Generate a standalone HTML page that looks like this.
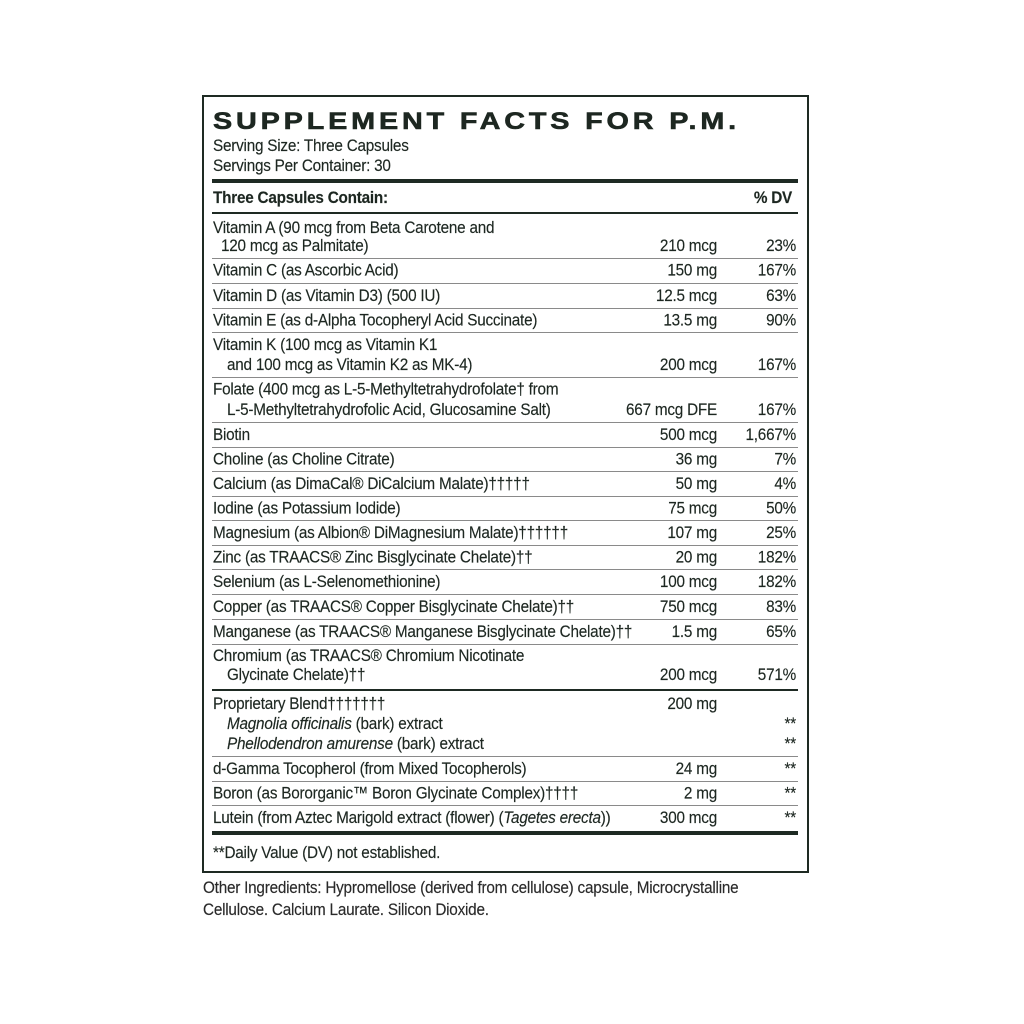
<!DOCTYPE html>
<html>
<head>
<meta charset="utf-8">
<style>
html,body{margin:0;padding:0;background:#fff;}
svg{display:block;}
.t{font-family:"Liberation Sans",Arial,sans-serif;font-size:17px;letter-spacing:-0.25px;fill:#1d2721;stroke:#1d2721;stroke-width:0.15px;}
.b{font-weight:bold;}
.r{text-anchor:end;}
.o{fill:#2a2a2a;stroke:#2a2a2a;}
</style>
</head>
<body>
<svg width="1024" height="1024" viewBox="0 0 1024 1024" xmlns="http://www.w3.org/2000/svg">
<rect x="0" y="0" width="1024" height="1024" fill="#fff"/>
<rect x="203" y="96" width="605" height="776" fill="none" stroke="#1e2a23" stroke-width="2"/>

<g transform="translate(213,129) scale(1.2,1)">
<text x="0" y="0" font-family="Liberation Sans, Arial, sans-serif" font-weight="bold" font-size="24" fill="#1d2721" stroke="#1d2721" stroke-width="0.6" textLength="436" lengthAdjust="spacing">SUPPLEMENT FACTS FOR P.M.</text>
</g>

<rect x="212" y="179" width="586" height="4" fill="#1e2a23"/>
<rect x="212" y="212" width="586" height="2" fill="#1e2a23"/>

<g fill="#8a8a8a">
<rect x="212" y="258" width="586" height="1"/>
<rect x="212" y="283" width="586" height="1"/>
<rect x="212" y="308" width="586" height="1"/>
<rect x="212" y="332" width="586" height="1"/>
<rect x="212" y="377" width="586" height="1"/>
<rect x="212" y="422" width="586" height="1"/>
<rect x="212" y="447" width="586" height="1"/>
<rect x="212" y="471" width="586" height="1"/>
<rect x="212" y="496" width="586" height="1"/>
<rect x="212" y="520" width="586" height="1"/>
<rect x="212" y="545" width="586" height="1"/>
<rect x="212" y="569" width="586" height="1"/>
<rect x="212" y="594" width="586" height="1"/>
<rect x="212" y="619" width="586" height="1"/>
<rect x="212" y="644" width="586" height="1"/>
<rect x="212" y="756" width="586" height="1"/>
<rect x="212" y="781" width="586" height="1"/>
<rect x="212" y="805" width="586" height="1"/>
</g>
<rect x="212" y="689" width="586" height="2" fill="#1e2a23"/>
<rect x="212" y="831" width="586" height="4" fill="#1e2a23"/>

<g transform="scale(0.9,1)">
<text class="t" x="236.67" y="151">Serving Size: Three Capsules</text>
<text class="t" x="236.67" y="171">Servings Per Container: 30</text>

<text class="t b" x="236.67" y="203">Three Capsules Contain:</text>
<text class="t b r" x="880" y="203">% DV</text>

<text class="t" x="236.67" y="233">Vitamin A (90 mcg from Beta Carotene and</text>
<text class="t" x="245.56" y="251">120 mcg as Palmitate)</text>
<text class="t r" x="796.67" y="251">210 mcg</text>
<text class="t r" x="884.44" y="251">23%</text>

<text class="t" x="236.67" y="275.5">Vitamin C (as Ascorbic Acid)</text>
<text class="t r" x="796.67" y="275.5">150 mg</text>
<text class="t r" x="884.44" y="275.5">167%</text>

<text class="t" x="236.67" y="301">Vitamin D (as Vitamin D3) (500 IU)</text>
<text class="t r" x="796.67" y="301">12.5 mcg</text>
<text class="t r" x="884.44" y="301">63%</text>

<text class="t" x="236.67" y="325.5">Vitamin E (as d-Alpha Tocopheryl Acid Succinate)</text>
<text class="t r" x="796.67" y="325.5">13.5 mg</text>
<text class="t r" x="884.44" y="325.5">90%</text>

<text class="t" x="236.67" y="350">Vitamin K (100 mcg as Vitamin K1</text>
<text class="t" x="252.22" y="370">and 100 mcg as Vitamin K2 as MK-4)</text>
<text class="t r" x="796.67" y="370">200 mcg</text>
<text class="t r" x="884.44" y="370">167%</text>

<text class="t" x="236.67" y="394.5">Folate (400 mcg as L-5-Methyltetrahydrofolate† from</text>
<text class="t" x="252.22" y="415">L-5-Methyltetrahydrofolic Acid, Glucosamine Salt)</text>
<text class="t r" x="796.67" y="415">667 mcg DFE</text>
<text class="t r" x="884.44" y="415">167%</text>

<text class="t" x="236.67" y="440">Biotin</text>
<text class="t r" x="796.67" y="440">500 mcg</text>
<text class="t r" x="884.44" y="440">1,667%</text>

<text class="t" x="236.67" y="464.5">Choline (as Choline Citrate)</text>
<text class="t r" x="796.67" y="464.5">36 mg</text>
<text class="t r" x="884.44" y="464.5">7%</text>

<text class="t" x="236.67" y="489">Calcium (as DimaCal® DiCalcium Malate)†††††</text>
<text class="t r" x="796.67" y="489">50 mg</text>
<text class="t r" x="884.44" y="489">4%</text>

<text class="t" x="236.67" y="513.5">Iodine (as Potassium Iodide)</text>
<text class="t r" x="796.67" y="513.5">75 mcg</text>
<text class="t r" x="884.44" y="513.5">50%</text>

<text class="t" x="236.67" y="538">Magnesium (as Albion® DiMagnesium Malate)††††††</text>
<text class="t r" x="796.67" y="538">107 mg</text>
<text class="t r" x="884.44" y="538">25%</text>

<text class="t" x="236.67" y="562.5">Zinc (as TRAACS® Zinc Bisglycinate Chelate)††</text>
<text class="t r" x="796.67" y="562.5">20 mg</text>
<text class="t r" x="884.44" y="562.5">182%</text>

<text class="t" x="236.67" y="587">Selenium (as L-Selenomethionine)</text>
<text class="t r" x="796.67" y="587">100 mcg</text>
<text class="t r" x="884.44" y="587">182%</text>

<text class="t" x="236.67" y="612">Copper (as TRAACS® Copper Bisglycinate Chelate)††</text>
<text class="t r" x="796.67" y="612">750 mcg</text>
<text class="t r" x="884.44" y="612">83%</text>

<text class="t" x="236.67" y="637">Manganese (as TRAACS® Manganese Bisglycinate Chelate)††</text>
<text class="t r" x="796.67" y="637">1.5 mg</text>
<text class="t r" x="884.44" y="637">65%</text>

<text class="t" x="236.67" y="661">Chromium (as TRAACS® Chromium Nicotinate</text>
<text class="t" x="252.22" y="680">Glycinate Chelate)††</text>
<text class="t r" x="796.67" y="680">200 mcg</text>
<text class="t r" x="884.44" y="680">571%</text>

<text class="t" x="236.67" y="709">Proprietary Blend†††††††</text>
<text class="t r" x="796.67" y="709">200 mg</text>
<text class="t" x="252.22" y="729"><tspan font-style="italic">Magnolia officinalis</tspan> (bark) extract</text>
<text class="t r" x="884.44" y="729">**</text>
<text class="t" x="252.22" y="749"><tspan font-style="italic">Phellodendron amurense</tspan> (bark) extract</text>
<text class="t r" x="884.44" y="749">**</text>

<text class="t" x="236.67" y="774">d-Gamma Tocopherol (from Mixed Tocopherols)</text>
<text class="t r" x="796.67" y="774">24 mg</text>
<text class="t r" x="884.44" y="774">**</text>

<text class="t" x="236.67" y="798.5">Boron (as Bororganic™ Boron Glycinate Complex)††††</text>
<text class="t r" x="796.67" y="798.5">2 mg</text>
<text class="t r" x="884.44" y="798.5">**</text>

<text class="t" x="236.67" y="823">Lutein (from Aztec Marigold extract (flower) (<tspan font-style="italic">Tagetes erecta</tspan>))</text>
<text class="t r" x="796.67" y="823">300 mcg</text>
<text class="t r" x="884.44" y="823">**</text>

<text class="t" x="236.67" y="858">**Daily Value (DV) not established.</text>

<text class="t o" x="225.56" y="893">Other Ingredients: Hypromellose (derived from cellulose) capsule, Microcrystalline</text>
<text class="t o" x="225.56" y="915">Cellulose. Calcium Laurate. Silicon Dioxide.</text>
</g>
</svg>
</body>
</html>
